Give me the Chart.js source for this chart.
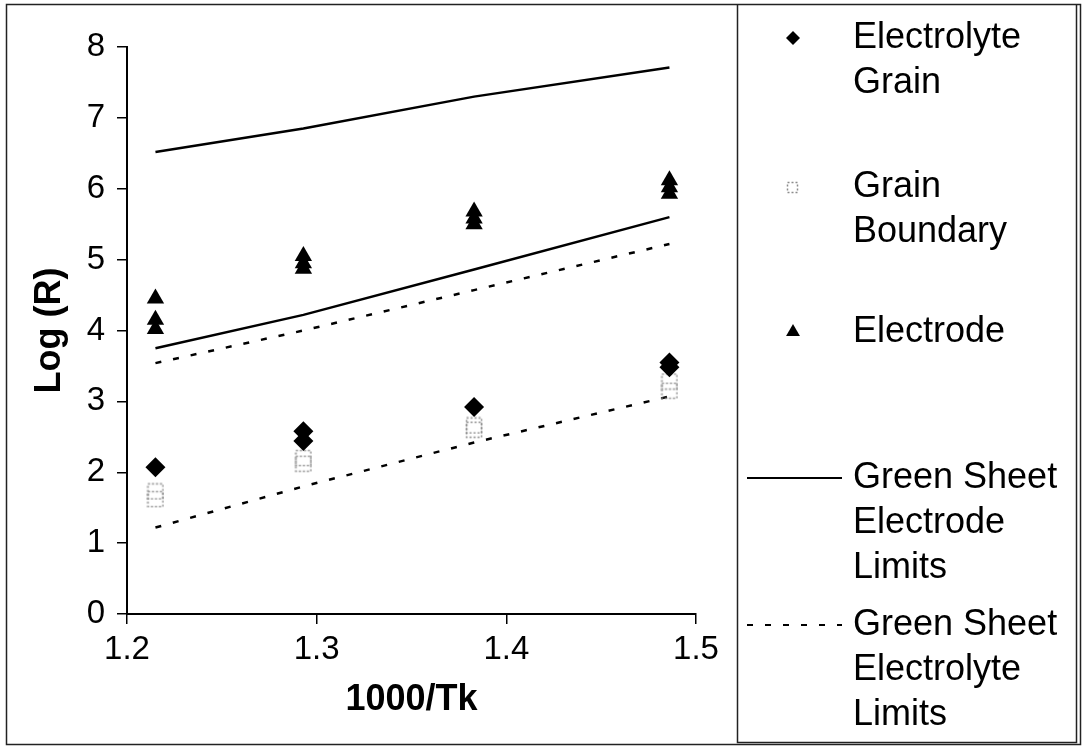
<!DOCTYPE html>
<html><head><meta charset="utf-8">
<script src="https://cdn.jsdelivr.net/npm/chart.js@4/dist/chart.umd.min.js"></script>
<style>html,body{margin:0;padding:0;background:#fff;} #wrap{position:relative;width:1086px;height:748px;}</style>
</head><body><div id="wrap"><canvas id="c" width="1086" height="748"></canvas></div>
<script>
// ---- data ----
const xTicks = [1.2, 1.3, 1.4, 1.5];
const yTicks = [0, 1, 2, 3, 4, 5, 6, 7, 8];
const invTemp = [1.215, 1.293, 1.383, 1.486];

const grainX = [1.215, 1.293, 1.293, 1.383, 1.486, 1.486];
const grainY = [2.07, 2.58, 2.44, 2.92, 3.55, 3.48];

const boundaryX = [1.215, 1.215, 1.293, 1.293, 1.383, 1.383, 1.486, 1.486];
const boundaryY = [1.73, 1.62, 2.20, 2.12, 2.66, 2.60, 3.28, 3.15];

const electrodeX = [1.215, 1.215, 1.215, 1.293, 1.293, 1.293, 1.383, 1.383, 1.383, 1.486, 1.486, 1.486];
const electrodeY = [4.45, 4.15, 4.02, 5.05, 4.95, 4.87, 5.68, 5.58, 5.50, 6.12, 6.02, 5.93];

const electrodeLimitUpper = [6.52, 6.85, 7.30, 7.71];
const electrodeLimitLower = [3.75, 4.22, 4.86, 5.60];
const electrolyteLimitUpper = [3.54, 4.00, 4.57, 5.22];
const electrolyteLimitLower = [1.22, 1.80, 2.42, 3.07];

const seriesLabels = [
  ["Electrolyte", "Grain"],
  ["Grain", "Boundary"],
  ["Electrode"],
  ["Green Sheet", "Electrode", "Limits"],
  ["Green Sheet", "Electrolyte", "Limits"]
];
const xTitle = "1000/Tk";
const yTitle = "Log (R)";

// ---- helpers ----
const pts = (xs, ys) => xs.map((x, i) => ({x: x, y: ys[i]}));
const twoLines = (xs, a, b) => pts(xs, a).concat([{x: xs[xs.length - 1], y: null}], pts(xs, b));

function makeSquare(size, dash) {
  const c = document.createElement('canvas');
  c.width = size; c.height = size;
  const g = c.getContext('2d');
  g.strokeStyle = '#8c8c8c';
  g.lineWidth = 1.5;
  g.setLineDash(dash);
  g.strokeRect(1.5, 1.5, size - 3, size - 3);
  return c;
}
const squareImg = makeSquare(18, [2, 2]);
const squareLegend = makeSquare(13, [2, 2]);

const FONT = "'Liberation Sans', Arial, sans-serif";

const legendPlugin = {
  id: 'customLegend',
  afterDraw(chart) {
    const ctx = chart.ctx;
    ctx.save();
    // outer border and legend box
    ctx.strokeStyle = '#222';
    ctx.lineWidth = 1.5;
    ctx.strokeRect(6.5, 4.5, 1074, 740);
    ctx.beginPath();
    ctx.moveTo(737.5, 4.5); ctx.lineTo(737.5, 742.5); ctx.lineTo(1076.5, 742.5); ctx.lineTo(1076.5, 4.5);
    ctx.stroke();

    const lineH = 45;
    const firstY = [38, 187, 332, 478, 625];
    const markerX = 793;
    const textX = 853;
    ctx.font = "36px " + FONT;
    ctx.fillStyle = '#000';
    ctx.textBaseline = 'middle';
    ctx.textAlign = 'left';
    seriesLabels.forEach((lines, i) => {
      const y0 = firstY[i];
      lines.forEach((t, j) => ctx.fillText(t, textX, y0 + j * lineH));
      const ds = chart.data.datasets[i];
      ctx.fillStyle = '#000';
      if (i === 0) {
        const r = 7;
        ctx.beginPath();
        ctx.moveTo(markerX, y0 - r); ctx.lineTo(markerX + r, y0); ctx.lineTo(markerX, y0 + r); ctx.lineTo(markerX - r, y0);
        ctx.closePath(); ctx.fill();
      } else if (i === 1) {
        ctx.drawImage(squareLegend, markerX - 7, y0 - 6);
      } else if (i === 2) {
        const r = 8;
        ctx.beginPath();
        ctx.moveTo(markerX, y0 - r);
        ctx.lineTo(markerX + r * 0.866, y0 + r * 0.5);
        ctx.lineTo(markerX - r * 0.866, y0 + r * 0.5);
        ctx.closePath(); ctx.fill();
      } else {
        ctx.strokeStyle = '#000';
        ctx.lineWidth = 2;
        ctx.setLineDash(ds.borderDash || []);
        ctx.beginPath();
        ctx.moveTo(747, y0); ctx.lineTo(842, y0);
        ctx.stroke();
        ctx.setLineDash([]);
      }
    });
    ctx.restore();
  }
};

const axisCommon = {
  grid: {display: true, drawOnChartArea: false, drawTicks: true, tickLength: 10, color: '#000', lineWidth: 1.5},
  border: {display: true, color: '#000', width: 2},
  ticks: {color: '#000', font: {family: FONT, size: 33}}
};

new Chart(document.getElementById('c'), {
  type: 'scatter',
  data: {
    datasets: [
      {label: seriesLabels[0].join(' '), data: pts(grainX, grainY), pointStyle: 'rectRot', radius: 10,
       backgroundColor: '#000', borderColor: '#000', borderWidth: 0, showLine: false},
      {label: seriesLabels[1].join(' '), data: pts(boundaryX, boundaryY), pointStyle: squareImg, radius: 9,
       backgroundColor: '#888', borderColor: '#888', showLine: false},
      {label: seriesLabels[2].join(' '), data: pts(electrodeX, electrodeY), pointStyle: 'triangle', radius: 10,
       backgroundColor: '#000', borderColor: '#000', borderWidth: 0, showLine: false},
      {label: seriesLabels[3].join(' '), data: twoLines(invTemp, electrodeLimitUpper, electrodeLimitLower),
       showLine: true, spanGaps: false, borderColor: '#000', borderWidth: 2.5, pointRadius: 0, tension: 0},
      {label: seriesLabels[4].join(' '), data: twoLines(invTemp, electrolyteLimitUpper, electrolyteLimitLower),
       showLine: true, spanGaps: false, borderColor: '#000', borderWidth: 2.5, borderDash: [6, 12], pointRadius: 0, tension: 0}
    ]
  },
  options: {
    responsive: false,
    animation: false,
    events: [],
    layout: {padding: {left: 0, top: 47, right: 390, bottom: 0}},
    plugins: {legend: {display: false}, tooltip: {enabled: false}},
    scales: {
      x: Object.assign({}, axisCommon, {
        type: 'linear', min: xTicks[0], max: xTicks[xTicks.length - 1],
        afterBuildTicks: s => { s.ticks = xTicks.map(v => ({value: v})); },
        afterFit: s => { s.height = 134; },
        ticks: Object.assign({}, axisCommon.ticks, {padding: 6, callback: v => v.toFixed(1), maxRotation: 0}),
        title: {display: true, text: xTitle, color: '#000', font: {family: FONT, size: 36, weight: 'bold'}, padding: {top: 0, bottom: 26}}
      }),
      y: Object.assign({}, axisCommon, {
        type: 'linear', min: yTicks[0], max: yTicks[yTicks.length - 1],
        afterBuildTicks: s => { s.ticks = yTicks.map(v => ({value: v})); },
        afterFit: s => { s.width = 127; },
        ticks: Object.assign({}, axisCommon.ticks, {padding: 12, callback: v => String(v)}),
        title: {display: true, text: yTitle, color: '#000', font: {family: FONT, size: 36, weight: 'bold'}, padding: {top: 28, bottom: 0}}
      })
    }
  },
  plugins: [legendPlugin]
});
</script>
</body></html>
